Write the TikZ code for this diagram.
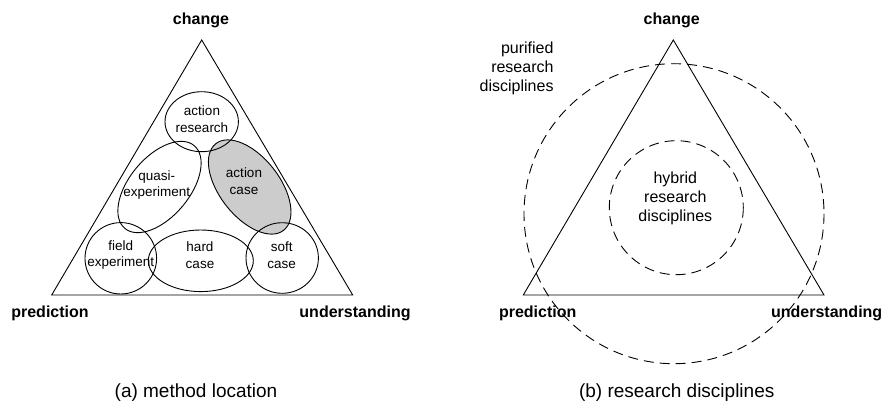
\documentclass[tikz,border=0pt]{standalone}
\usepackage{fontspec}
\setmainfont{Liberation Sans}
\tikzset{
  pole/.style={font=\fontsize{16}{19}\selectfont\bfseries},
  method/.style={align=center, font=\fontsize{13.5}{16.7}\selectfont},
  discipline/.style={align=center, font=\fontsize{16}{19}\selectfont},
  subcaption/.style={font=\fontsize{19}{22}\selectfont},
  dashring/.style={dash pattern=on 10pt off 6pt}
}
\begin{document}
\begin{tikzpicture}[x=1pt, y=-1pt, line width=0.9pt]
	\useasboundingbox (0,0) rectangle (883,404);
	% (a) method location
	\coordinate (aT) at (201.7,40);
	\coordinate (aL) at (51.7,295);
	\coordinate (aR) at (352.7,295);
	\fill[gray!40, rotate around={-52:(249.7,187)}] (249.7,187) ellipse (55 and 30);%action case
	\draw (aT) -- (aL) -- (aR) -- cycle;
	\draw (201.7,121.7) ellipse (36.7 and 30);%action research
	\draw[rotate around={50:(159.5,187)}] (159.5,187) ellipse (54 and 30);%quasi
	\draw[rotate around={-52:(249.7,187)}] (249.7,187) ellipse (55 and 30);%action case
	\draw (120.8,258.3) ellipse (35.8 and 35.7);%field
	\draw (200.8,260.8) ellipse (52.5 and 30.8);%hard
	\draw (282.2,258) ellipse (36.2 and 35.3);%soft
	\node[pole] (aChange) at (201,20){change};
	\node[pole] (aPred) at (50,313){prediction};
	\node[pole] (aUnd) at (355,313){understanding};
	\node[method] (actRes) at (202,119){action\\research};
	\node[method] (quasi) at (156.7,185){quasi-\\experiment};
	\node[method] (actCase) at (244,181){action\\case};
	\node[method] (field) at (120.7,255){field\\experiment};
	\node[method] (hard) at (200,255){hard\\case};
	\node[method] (soft) at (281.7,255){soft\\case};
	\node[subcaption] (capA) at (196,393){(a) method location};
	% (b) research disciplines
	\coordinate (bT) at (673.3,40);
	\coordinate (bL) at (523.3,295);
	\coordinate (bR) at (824,295);
	\draw (bT) -- (bL) -- (bR) -- cycle;
	\draw[dashring] (674,213.7) circle (150);
	\draw[dashring] (676.3,207.7) circle (67);
	\node[pole] (bChange) at (671.7,20){change};
	\node[pole] (bPred) at (537.7,313){prediction};
	\node[pole] (bUnd) at (826.7,313){understanding};
	\node[discipline, align=right, anchor=east] (pure) at (557.3,68.3){purified\\research\\disciplines};
	\node[discipline] (hybrid) at (675.3,198.3){hybrid\\research\\disciplines};
	\node[subcaption] (capB) at (676.7,393){(b) research disciplines};
\end{tikzpicture}
\end{document}
